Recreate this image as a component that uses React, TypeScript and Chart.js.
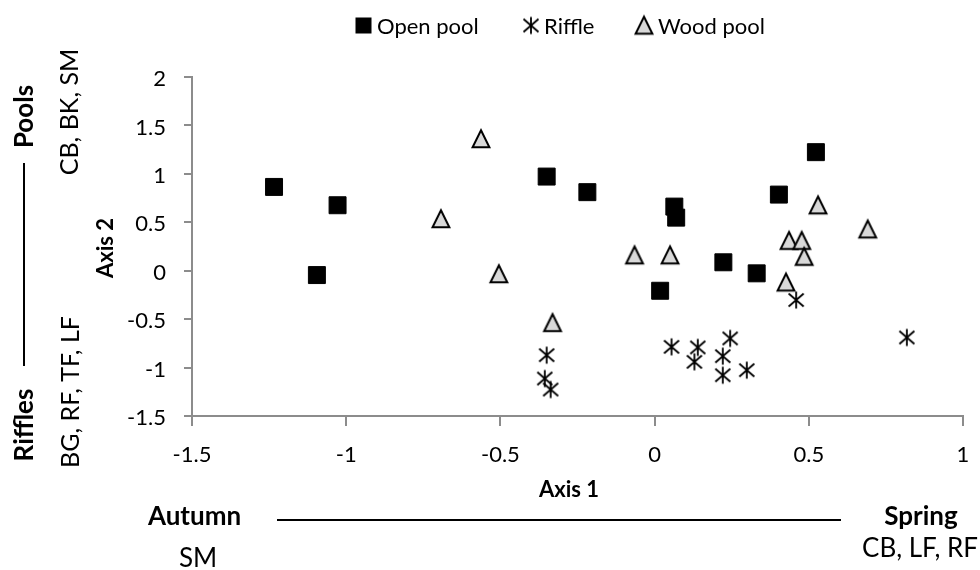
import React, { useEffect, useRef } from 'react';
import { Chart, registerables } from 'chart.js';

Chart.register(...registerables);

// ---- Data ----
const seriesNames = ['Open pool', 'Riffle', 'Wood pool'];

const openPoolX = [-1.234, -1.028, -1.095, -0.35, -0.218, 0.064, 0.07, 0.523, 0.403, 0.018, 0.223, 0.331];
const openPoolY = [0.865, 0.676, -0.045, 0.972, 0.811, 0.662, 0.548, 1.224, 0.786, -0.207, 0.087, -0.027];

const riffleX = [-0.35, -0.356, -0.337, 0.459, 0.055, 0.14, 0.129, 0.245, 0.221, 0.221, 0.299, 0.818];
const riffleY = [-0.872, -1.113, -1.227, -0.303, -0.786, -0.792, -0.941, -0.699, -0.882, -1.079, -1.027, -0.689];

const woodPoolX = [-0.563, -0.693, -0.505, -0.331, -0.065, 0.05, 0.53, 0.691, 0.436, 0.477, 0.485, 0.426];
const woodPoolY = [1.36, 0.534, -0.034, -0.538, 0.16, 0.16, 0.676, 0.428, 0.31, 0.31, 0.145, -0.12];

const xTicks = [-1.5, -1, -0.5, 0, 0.5, 1];
const yTicks = [-1.5, -1, -0.5, 0, 0.5, 1, 1.5, 2];

const xTitle = 'Axis 1';
const yTitle = 'Axis 2';
const yTopLabel = 'Pools';
const yTopSpecies = 'CB, BK, SM';
const yBottomLabel = 'Riffles';
const yBottomSpecies = 'BG, RF, TF, LF';
const xLeftLabel = 'Autumn';
const xLeftSpecies = 'SM';
const xRightLabel = 'Spring';
const xRightSpecies = 'CB, LF, RF';

const FONT = 'Lato';
const AXIS_GRAY = '#8c8c8c';

function makeTriangle(): HTMLCanvasElement {
  const c = document.createElement('canvas');
  c.width = 26;
  c.height = 26;
  const g = c.getContext('2d')!;
  g.beginPath();
  g.moveTo(13, 4.2);
  g.lineTo(21.4, 21.2);
  g.lineTo(4.6, 21.2);
  g.closePath();
  g.fillStyle = '#d9d9d9';
  g.fill();
  g.lineWidth = 2;
  g.lineJoin = 'miter';
  g.strokeStyle = '#000';
  g.stroke();
  return c;
}

function makeAsterisk(): HTMLCanvasElement {
  const c = document.createElement('canvas');
  c.width = 20;
  c.height = 20;
  const g = c.getContext('2d')!;
  g.strokeStyle = '#000';
  g.lineWidth = 1.8;
  g.beginPath();
  g.moveTo(10, 1.5);
  g.lineTo(10, 18.5);
  g.moveTo(2.5, 3.5);
  g.lineTo(17.5, 16.5);
  g.moveTo(17.5, 3.5);
  g.lineTo(2.5, 16.5);
  g.stroke();
  return c;
}

function toPoints(xs: number[], ys: number[]) {
  return xs.map((x, i) => ({ x, y: ys[i] }));
}

export default function App() {
  const ref = useRef<HTMLCanvasElement | null>(null);

  useEffect(() => {
    if (!ref.current) return;
    const tri = makeTriangle();
    const ast = makeAsterisk();

    const vText = (ctx: CanvasRenderingContext2D, text: string, font: string, bx: number, cy: number) => {
      ctx.save();
      ctx.translate(bx, cy);
      ctx.rotate(-Math.PI / 2);
      ctx.font = font;
      ctx.textAlign = 'center';
      ctx.textBaseline = 'alphabetic';
      ctx.fillText(text, 0, 0);
      ctx.restore();
    };

    const annotations = {
      id: 'annotations',
      afterDraw(chart: any) {
        const ctx: CanvasRenderingContext2D = chart.ctx;
        ctx.save();
        ctx.fillStyle = '#000';
        ctx.strokeStyle = '#000';
        ctx.textBaseline = 'alphabetic';

        // Legend
        ctx.font = `22px ${FONT}`;
        ctx.textAlign = 'left';
        ctx.fillRect(355.5, 17.5, 16, 16);
        ctx.fillText(seriesNames[0], 377, 33.5);
        ctx.drawImage(ast, 531 - ast.width / 2, 25.5 - ast.height / 2);
        ctx.fillText(seriesNames[1], 544, 33.5);
        ctx.drawImage(tri, 644 - tri.width / 2, 25.5 - tri.height / 2);
        ctx.fillText(seriesNames[2], 658, 33.5);

        // Horizontal texts
        ctx.textAlign = 'center';
        ctx.font = `bold 22px ${FONT}`;
        ctx.fillText(xTitle, 569, 497);
        ctx.font = `bold 26px ${FONT}`;
        ctx.fillText(xLeftLabel, 194.5, 525);
        ctx.fillText(xRightLabel, 921, 525);
        ctx.font = `26px ${FONT}`;
        ctx.fillText(xLeftSpecies, 198, 567);
        ctx.fillText(xRightSpecies, 920, 557);

        ctx.lineWidth = 2;
        ctx.beginPath();
        ctx.moveTo(277, 520);
        ctx.lineTo(841, 520);
        ctx.moveTo(24, 163);
        ctx.lineTo(24, 366);
        ctx.stroke();

        // Vertical texts
        vText(ctx, yTopLabel, `bold 26px ${FONT}`, 33, 116.5);
        vText(ctx, yBottomLabel, `bold 26px ${FONT}`, 33, 425);
        vText(ctx, yTopSpecies, `25px ${FONT}`, 78, 112);
        vText(ctx, yBottomSpecies, `25px ${FONT}`, 79, 392);
        vText(ctx, yTitle, `bold 22px ${FONT}`, 113, 248);
        ctx.restore();
      },
    };

    const tickFont = { family: FONT, size: 22 };
    const fmt = (v: any) => String(Number(v));

    const chart = new Chart(ref.current, {
      type: 'scatter',
      data: {
        datasets: [
          {
            label: seriesNames[0],
            data: toPoints(openPoolX, openPoolY),
            pointStyle: 'rect',
            pointRadius: 12,
            backgroundColor: '#000',
            borderColor: '#000',
            borderWidth: 1,
            order: 3,
          },
          {
            label: seriesNames[1],
            data: toPoints(riffleX, riffleY),
            pointStyle: ast as any,
            pointRadius: 10,
            backgroundColor: '#000',
            borderColor: '#000',
            order: 2,
          },
          {
            label: seriesNames[2],
            data: toPoints(woodPoolX, woodPoolY),
            pointStyle: tri as any,
            pointRadius: 12,
            backgroundColor: '#d9d9d9',
            borderColor: '#000',
            order: 1,
          },
        ],
      },
      options: {
        responsive: false,
        animation: false,
        layout: { padding: { top: 77, right: 17, bottom: 0, left: 0 } },
        plugins: {
          legend: { display: false },
          tooltip: { enabled: false },
        },
        scales: {
          x: {
            type: 'linear',
            min: xTicks[0],
            max: xTicks[xTicks.length - 1],
            afterBuildTicks: (s: any) => {
              s.ticks = xTicks.map((v) => ({ value: v }));
            },
            afterFit: (s: any) => {
              s.height = 154;
              s.paddingLeft = 0;
              s.paddingRight = 0;
            },
            ticks: { padding: 16, font: tickFont, color: '#000', callback: fmt },
            grid: { drawOnChartArea: false, drawTicks: true, tickLength: 10, color: AXIS_GRAY, lineWidth: 2 },
            border: { color: AXIS_GRAY, width: 2 },
          },
          y: {
            type: 'linear',
            min: yTicks[0],
            max: yTicks[yTicks.length - 1],
            afterBuildTicks: (s: any) => {
              s.ticks = yTicks.map((v) => ({ value: v }));
            },
            afterFit: (s: any) => {
              s.width = 192;
              s.paddingTop = 0;
              s.paddingBottom = 0;
            },
            ticks: { padding: 18, labelOffset: 2, font: tickFont, color: '#000', callback: fmt },
            grid: { drawOnChartArea: false, drawTicks: true, tickLength: 8, color: AXIS_GRAY, lineWidth: 2 },
            border: { color: AXIS_GRAY, width: 2 },
          },
        },
      },
      plugins: [annotations],
    });

    return () => chart.destroy();
  }, []);

  return (
    <div style={{ position: 'absolute', left: 0, top: 0, width: 980, height: 570, background: '#fff' }}>
      <canvas ref={ref} width={980} height={570} style={{ width: 980, height: 570, display: 'block' }} />
    </div>
  );
}
